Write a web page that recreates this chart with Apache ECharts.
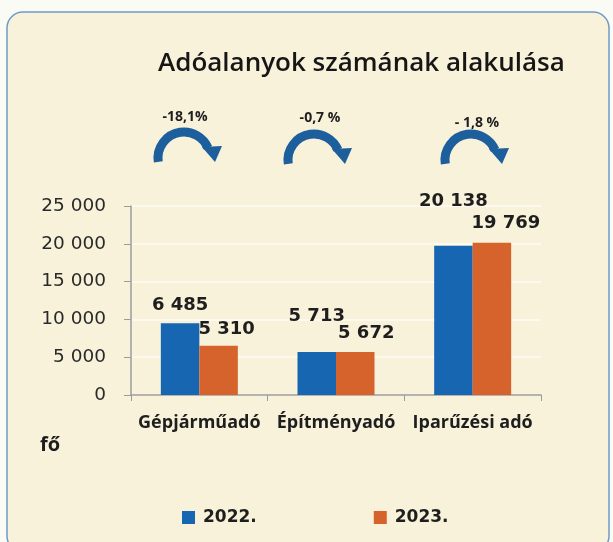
<!DOCTYPE html>
<html>
<head>
<meta charset="utf-8">
<script src="https://cdn.jsdelivr.net/npm/echarts@6/dist/echarts.min.js"></script>
<style>
  html, body { margin: 0; padding: 0; background: #fbfbf6; }
  #chart { width: 613px; height: 542px; }
</style>
</head>
<body>
<div id="chart"></div>
<script>
// data
const categories = ["Gépjárműadó", "Építményadó", "Iparűzési adó"];
const seriesNames = ["2022.", "2023."];
// bar heights as drawn
const values2022 = [9500, 5700, 19750];
const values2023 = [6500, 5700, 20150];
// numbers printed over the bars
const labels2022 = ["6 485", "5 713", "20 138"];
const labels2023 = ["5 310", "5 672", "19 769"];
const changeLabels = ["-18,1%", "-0,7 %", "- 1,8 %"];
const yTicks = [0, 5000, 10000, 15000, 20000, 25000];

// layout only
const nudge2022 = [[0, -9], [0, -27], [0, -35]];
const nudge2023 = [[8, -8], [11, -10], [14, -10]];
const arrowCenters = [[184, 158], [314, 160], [471, 160]];
const changeLabelPos = [[185, 117], [320, 118], [477, 123]];

const numFont = "DejaVu Sans";
const txtFont = "Open Sans";

function fmt(v) {
  return String(v).replace(/\B(?=(\d{3})+(?!\d))/g, " ");
}

function barData(values, labels, nudges) {
  return values.map((v, i) => ({
    value: v,
    label: { formatter: labels[i], offset: nudges[i] }
  }));
}

const graphics = [
  {
    type: "rect",
    z: -10,
    shape: { x: 7, y: 12, width: 602, height: 540, r: 16 },
    style: { fill: "#f8f2da", stroke: "#6f9bc6", lineWidth: 1.5 }
  },
  {
    type: "text",
    left: 158,
    top: 51,
    style: {
      text: "Adóalanyok számának alakulása",
      font: "600 26px " + txtFont,
      fill: "#161616"
    }
  },
  {
    type: "text",
    left: 40,
    top: 435,
    style: { text: "fő", font: "bold 20px " + txtFont, fill: "#1d1d1d" }
  }
];

arrowCenters.forEach((c, i) => {
  const cx = c[0], cy = c[1];
  graphics.push({
    type: "arc",
    shape: { cx: cx, cy: cy, r: 26, startAngle: Math.PI - 0.15, endAngle: Math.PI * 2 - 0.4, clockwise: true },
    style: { stroke: "#1d5f9c", lineWidth: 9, fill: null }
  });
  graphics.push({
    type: "polygon",
    shape: { points: [[cx + 18, cy - 11], [cx + 38, cy - 12], [cx + 31, cy + 4]] },
    style: { fill: "#1d5f9c" }
  });
  graphics.push({
    type: "text",
    x: changeLabelPos[i][0],
    y: changeLabelPos[i][1],
    style: {
      text: changeLabels[i],
      font: "bold 14px " + txtFont,
      fill: "#1e1e1e",
      align: "center",
      verticalAlign: "middle"
    }
  });
});

const barLabel = {
  show: true,
  position: "top",
  distance: 0,
  fontFamily: numFont,
  fontWeight: "bold",
  fontSize: 18,
  color: "#1e1e1e"
};

const option = {
  backgroundColor: "#fbfbf6",
  animation: false,
  color: ["#1766b2", "#d6632b"],
  graphic: graphics,
  grid: { left: 131, right: 72, top: 206, bottom: 147 },
  legend: {
    left: 182,
    top: 509,
    padding: 0,
    icon: "rect",
    itemWidth: 13,
    itemHeight: 13,
    itemGap: 117,
    data: seriesNames,
    textStyle: {
      fontFamily: numFont,
      fontWeight: "bold",
      fontSize: 17,
      color: "#1e1e1e",
      padding: [0, 0, 0, 3]
    }
  },
  xAxis: {
    type: "category",
    data: categories,
    axisLine: { lineStyle: { color: "#9c9c9c", width: 1.5 } },
    axisTick: { show: true, length: 6, lineStyle: { color: "#9c9c9c" } },
    axisLabel: {
      interval: 0,
      margin: 19,
      fontFamily: txtFont,
      fontWeight: "bold",
      fontSize: 18,
      color: "#1e1e1e"
    }
  },
  yAxis: {
    type: "value",
    min: yTicks[0],
    max: yTicks[yTicks.length - 1],
    interval: yTicks[1] - yTicks[0],
    axisLine: { show: true, lineStyle: { color: "#9c9c9c", width: 1.5 } },
    axisTick: { show: true, length: 7, lineStyle: { color: "#9c9c9c" } },
    splitLine: { lineStyle: { color: "#fefdf6", width: 1.5 } },
    axisLabel: {
      margin: 25,
      formatter: fmt,
      fontFamily: numFont,
      fontSize: 18.5,
      color: "#2a2a2a"
    }
  },
  series: [
    {
      name: seriesNames[0],
      type: "bar",
      barWidth: 38.5,
      barGap: "0%",
      data: barData(values2022, labels2022, nudge2022),
      label: barLabel
    },
    {
      name: seriesNames[1],
      type: "bar",
      barWidth: 38.5,
      barGap: "0%",
      data: barData(values2023, labels2023, nudge2023),
      label: barLabel
    }
  ]
};

const myChart = echarts.init(document.getElementById("chart"));
myChart.setOption(option);
</script>
</body>
</html>
